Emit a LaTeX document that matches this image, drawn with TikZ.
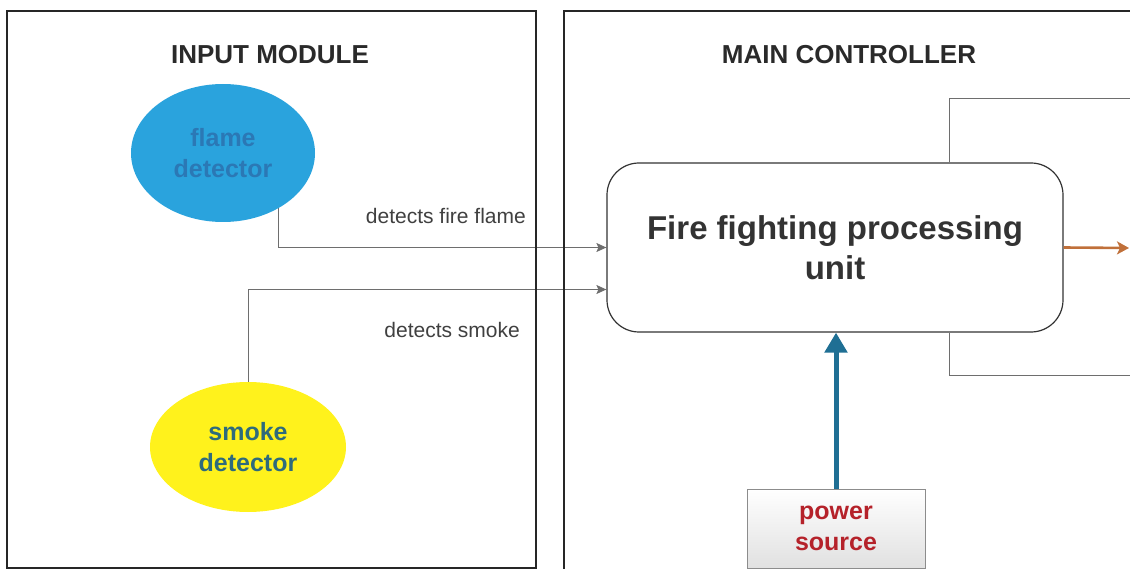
\documentclass[tikz,border=0pt]{standalone}
\usepackage{fontspec}
\setmainfont{Liberation Sans}
\usetikzlibrary{arrows.meta,shapes.geometric,calc}
\pgfdeclarelayer{bg}
\pgfsetlayers{bg,main}
\definecolor{flameblue}{HTML}{2AA3DD}
\definecolor{flametext}{HTML}{2B78B5}
\definecolor{smokeyellow}{HTML}{FFF21C}
\definecolor{smoketext}{HTML}{2E6B7C}
\definecolor{conngray}{HTML}{6E6E6E}
\definecolor{pwrblue}{HTML}{1F6F94}
\definecolor{pwrred}{HTML}{B5222A}
\definecolor{outorange}{HTML}{C0703A}
\definecolor{titlegray}{HTML}{2A2A2A}
\tikzset{
  modbox/.style={draw=black!85, line width=1.3pt, inner sep=0pt},
  title/.style={font=\bfseries\fontsize{26}{30}\selectfont, text=titlegray, inner sep=0pt},
  detector/.style={ellipse, inner sep=0pt, align=center, font=\bfseries\fontsize{25}{31}\selectfont},
  conn/.style={draw=conngray, line width=0.9pt},
  connarrow/.style={conn, -{Stealth[length=10pt,width=9pt,inset=2pt]}},
  label/.style={font=\fontsize{21}{24}\selectfont, text=black!75, inner sep=0pt},
  procbox/.style={draw=black!80, line width=1.2pt, rounded corners=32pt, minimum width=456pt, minimum height=169pt, inner sep=0pt, align=center, font=\bfseries\fontsize{33}{40}\selectfont, text=black!80},
  pwrbox/.style={draw=black!45, line width=0.8pt, top color=white, bottom color=black!12, minimum width=178pt, minimum height=79pt, inner sep=0pt, align=center, font=\bfseries\fontsize{25}{31}\selectfont, text=pwrred}
}
\begin{document}
\begin{tikzpicture}[x=1pt,y=-1pt]
\useasboundingbox (0,0) rectangle (1130,569);
\clip (0,0) rectangle (1130,569);
% module frames
\node[modbox, minimum width=529pt, minimum height=557pt] (inbox) at (271.5,289.5) {};
\node[modbox, minimum width=600pt, minimum height=580pt] (mainbox) at (864,301) {};
\node[title] (intitle) at (270,55) {INPUT MODULE};
\node[title] (maintitle) at (849,55) {MAIN CONTROLLER};
% detectors
\node[detector, fill=flameblue, text=flametext, minimum width=184pt, minimum height=138pt] (flame) at (223,153) {flame\\detector};
\node[detector, fill=smokeyellow, text=smoketext, minimum width=196pt, minimum height=130pt] (smoke) at (248,447) {smoke\\detector};
% processing unit
\node[procbox] (pu) at (835,247.5) {Fire fighting processing\\unit};
% power source
\node[pwrbox] (pwr) at (836,528.5) {power\\source};
% off-picture ends
\coordinate (outtop) at (1135,98);
\coordinate (outbot) at (1135,375);
\coordinate (outright) at (1129,248);
\coordinate (flamex) at ($(flame.center)+(55,0)$);
% connectors
\begin{pgfonlayer}{bg}
\draw[connarrow] (flamex) |- (pu.west);
\draw[connarrow] (smoke.north) |- ($(pu.west)+(0,42)$);
\end{pgfonlayer}
\draw[conn] ($(pu.north)+(114,0)$) |- (outtop);
\draw[conn] ($(pu.south)+(114,0)$) |- (outbot);
\draw[draw=outorange, line width=2.6pt, -{Stealth[length=12pt,width=13pt,inset=3pt]}] (pu.east) -- (outright);
\draw[draw=pwrblue, line width=5pt, -{Triangle[length=20pt,width=22pt]}] (pwr.north) -- (pwr.north |- pu.south);
% labels
\node[label, anchor=east] (lflame) at (526,216) {detects fire flame};
\node[label, anchor=east] (lsmoke) at (520,330) {detects smoke};
\end{tikzpicture}
\end{document}
